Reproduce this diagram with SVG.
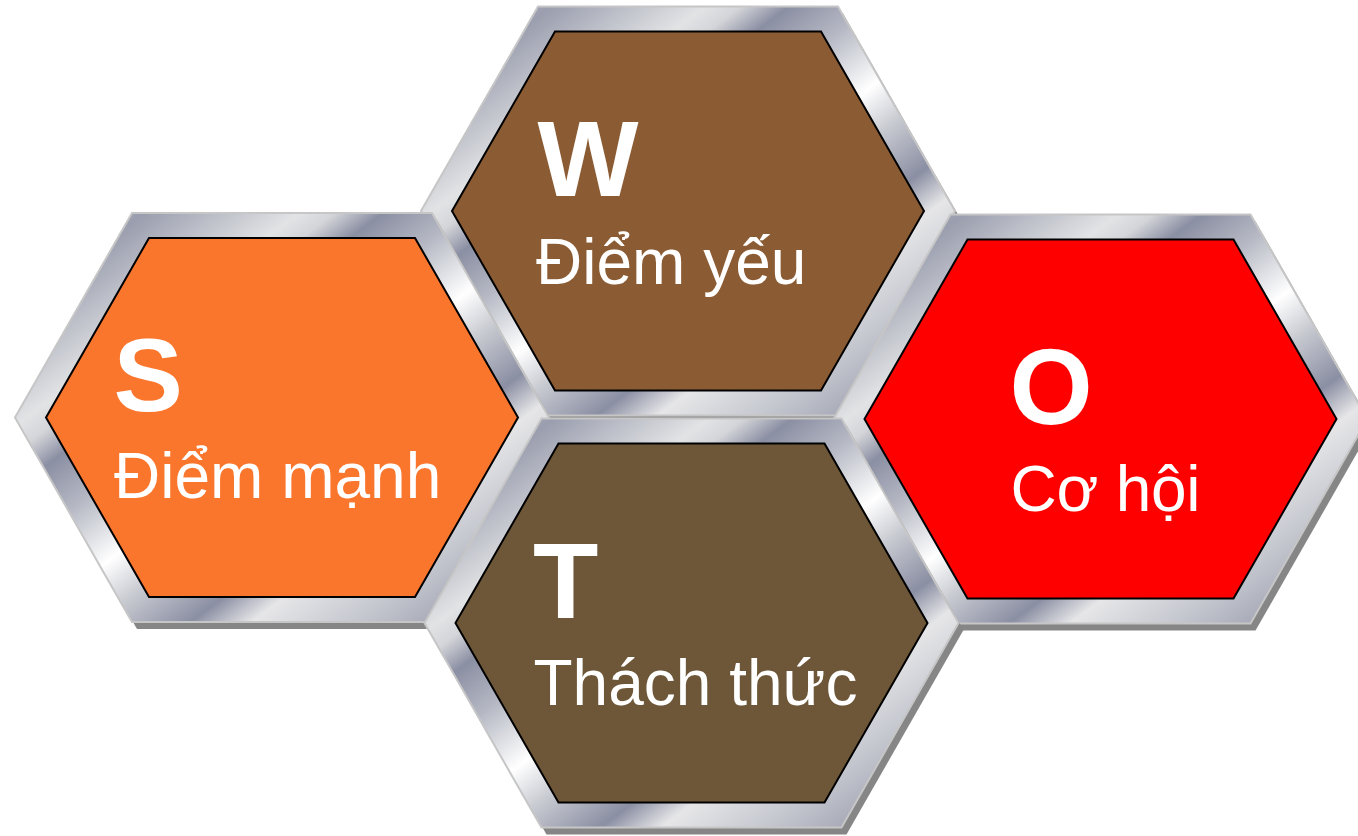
<svg xmlns="http://www.w3.org/2000/svg" width="1358" height="836" viewBox="0 0 1358 836">
<style>
.shadow{fill:#868686}
.frame{fill:url(#metal);stroke:#c6c6c6;stroke-width:2}
.face{stroke:#000;stroke-width:2;stroke-linejoin:miter}
.big{font-family:"Liberation Sans",Arial,sans-serif;font-weight:700;font-size:107px;fill:#fff}
.small{font-family:"Liberation Sans",Arial,sans-serif;font-size:64px;fill:#fff}
</style>
<defs>
<linearGradient id="metal" gradientUnits="userSpaceOnUse" x1="-158.4" y1="-211.2" x2="158.4" y2="211.2">
<stop offset="0" stop-color="#a2a5b3"/>
<stop offset=".035" stop-color="#9a9eae"/>
<stop offset=".21" stop-color="#e2e3e5"/>
<stop offset=".25" stop-color="#d4d5d9"/>
<stop offset=".305" stop-color="#8b8fa3"/>
<stop offset=".40" stop-color="#b6b9c4"/>
<stop offset=".52" stop-color="#ffffff"/>
<stop offset=".60" stop-color="#c8cad1"/>
<stop offset=".706" stop-color="#8b8fa3"/>
<stop offset=".775" stop-color="#e6e6e8"/>
<stop offset=".89" stop-color="#c6c8d0"/>
<stop offset="1" stop-color="#a2a5b3"/>
</linearGradient>
<polygon id="outer" points="-267,0 -150,-204.5 150,-204.5 267,0 150,204.5 -150,204.5"/>
<polygon id="inner" points="-236,0 -133,-179.5 133,-179.5 236,0 133,179.5 -133,179.5"/>
</defs>
<g id="connectors"/>
<g id="node-W" transform="translate(688,211)">
<use href="#outer" class="shadow" x="5" y="7"/>
<use href="#outer" class="frame"/>
<use href="#inner" class="face" fill="#8b5c34"/>
<text class="big" x="-150.500" y="-15">W</text>
<text class="small" x="-152" y="73">Điểm yếu</text>
</g>
<g id="node-O" transform="translate(1100.500,419)">
<use href="#outer" class="shadow" x="5" y="7"/>
<use href="#outer" class="frame"/>
<use href="#inner" class="face" fill="#ff0000"/>
<text class="big" x="-91" y="5">O</text>
<text class="small" x="-90" y="92" textLength="190">Cơ hội</text>
</g>
<g id="node-S" transform="translate(282,417.500)">
<use href="#outer" class="shadow" x="5" y="7"/>
<use href="#outer" class="frame"/>
<use href="#inner" class="face" fill="#fb762d"/>
<text class="big" x="-168.500" y="-7" style="font-size:104px">S</text>
<text class="small" x="-168" y="80">Điểm mạnh</text>
</g>
<g id="node-T" transform="translate(691.500,623)">
<use href="#outer" class="shadow" x="5" y="7"/>
<use href="#outer" class="frame"/>
<use href="#inner" class="face" fill="#6e5738"/>
<text class="big" x="-158.500" y="-5">T</text>
<text class="small" x="-158" y="82">Thách thức</text>
</g>
</svg>
